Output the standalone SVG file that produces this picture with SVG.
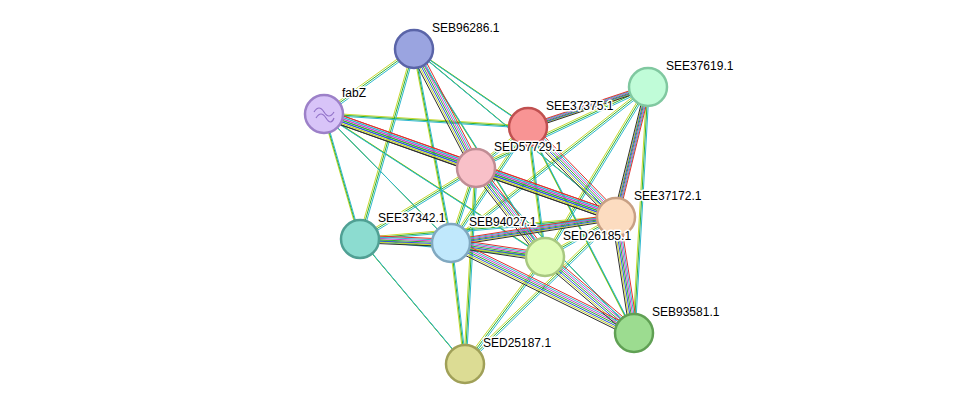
<svg xmlns="http://www.w3.org/2000/svg" xmlns:xlink="http://www.w3.org/1999/xlink" width="976" height="410" viewBox="0 0 976 410">
<style>
.e line{stroke-width:1.2}
.n circle{stroke-width:2.5}
text{font-family:"Liberation Sans",Arial,sans-serif;font-size:12px;fill:#000;paint-order:stroke;stroke:#fff;stroke-width:3px;stroke-linejoin:round}
</style>
<defs>
<g id="all">
<line x1="414" y1="49" x2="324" y2="114"/><line x1="414" y1="49" x2="528" y2="127"/><line x1="414" y1="49" x2="360" y2="239"/><line x1="414" y1="49" x2="451" y2="243"/><line x1="414" y1="49" x2="616" y2="217"/><line x1="414" y1="49" x2="545" y2="257"/>
<line x1="324" y1="114" x2="528" y2="127"/><line x1="324" y1="114" x2="360" y2="239"/><line x1="324" y1="114" x2="451" y2="243"/><line x1="324" y1="114" x2="545" y2="257"/>
<line x1="648" y1="87" x2="476" y2="168"/><line x1="648" y1="87" x2="634" y2="333"/><line x1="648" y1="87" x2="451" y2="243"/><line x1="648" y1="87" x2="545" y2="257"/>
<line x1="528" y1="127" x2="476" y2="168"/><line x1="528" y1="127" x2="451" y2="243"/><line x1="528" y1="127" x2="545" y2="257"/><line x1="528" y1="127" x2="634" y2="333"/>
<line x1="476" y1="168" x2="360" y2="239"/><line x1="476" y1="168" x2="451" y2="243"/><line x1="476" y1="168" x2="634" y2="333"/><line x1="476" y1="168" x2="465" y2="364"/>
<line x1="616" y1="217" x2="360" y2="239"/><line x1="616" y1="217" x2="545" y2="257"/><line x1="616" y1="217" x2="465" y2="364"/>
<line x1="360" y1="239" x2="545" y2="257"/><line x1="360" y1="239" x2="465" y2="364"/>
<line x1="451" y1="243" x2="465" y2="364"/>
<line x1="545" y1="257" x2="465" y2="364"/>
</g>
<g id="strong">
<line x1="324" y1="114" x2="476" y2="168"/><line x1="324" y1="114" x2="616" y2="217"/><line x1="476" y1="168" x2="616" y2="217"/>
<line x1="414" y1="49" x2="476" y2="168"/><line x1="648" y1="87" x2="616" y2="217"/><line x1="648" y1="87" x2="528" y2="127"/><line x1="476" y1="168" x2="545" y2="257"/><line x1="451" y1="243" x2="545" y2="257"/><line x1="545" y1="257" x2="634" y2="333"/><line x1="616" y1="217" x2="634" y2="333"/><line x1="360" y1="239" x2="451" y2="243"/><line x1="451" y1="243" x2="616" y2="217"/><line x1="451" y1="243" x2="634" y2="333"/><line x1="528" y1="127" x2="616" y2="217"/>
</g>
</defs>
<rect width="976" height="410" fill="#fff"/>
<g id="connectors" class="e" fill="none">
<use href="#all" stroke="#c8d830" transform="translate(-1.2,-1.2)"/>
<use href="#all" stroke="#30b030"/>
<use href="#all" stroke="#30b8d0" transform="translate(1.2,1.2)"/>
<use href="#strong" stroke="#c8d830" transform="translate(-2.4,2.4)"/>
<use href="#strong" stroke="#3050e0" transform="translate(-1.2,1.2)"/>
<use href="#strong" stroke="#30b030"/>
<use href="#strong" stroke="#d040d0" transform="translate(1.2,-1.2)"/>
<use href="#strong" stroke="#30b8d0" transform="translate(2.4,-2.4)"/>
<use href="#strong" stroke="#303030" transform="translate(-3.6,3.6)" stroke-width="1"/>
<use href="#strong" stroke="#e03030" transform="translate(3.6,-3.6)" stroke-width="1"/>
</g>
<g id="SEB96286.1" class="n"><circle cx="414" cy="49" r="19" fill="#9aa4e0" stroke="#5a64a8"/><text x="432" y="32">SEB96286.1</text></g>
<g id="fabZ" class="n"><circle cx="324" cy="114" r="19" fill="#d8c4f8" stroke="#9c80c8"/><path d="M314 112 q5 -8 10 0 t10 0 M316 118 q5 -8 10 0 t8 0" stroke="#9070c8" fill="none" stroke-width="1.2"/><text x="342" y="97">fabZ</text></g>
<g id="SEE37619.1" class="n"><circle cx="648" cy="87" r="19" fill="#c0fcd8" stroke="#80c8a0"/><text x="666" y="70">SEE37619.1</text></g>
<g id="SEE37375.1" class="n"><circle cx="528" cy="127" r="19" fill="#f89494" stroke="#c05050"/><text x="546" y="110">SEE37375.1</text></g>
<g id="SED57729.1" class="n"><circle cx="476" cy="168" r="19" fill="#f8c0c8" stroke="#c08c94"/><text x="494" y="151">SED57729.1</text></g>
<g id="SEE37172.1" class="n"><circle cx="616" cy="217" r="19" fill="#fcdcc0" stroke="#c8a084"/><text x="634" y="200">SEE37172.1</text></g>
<g id="SEE37342.1" class="n"><circle cx="360" cy="239" r="19" fill="#8cdcd0" stroke="#50a094"/><text x="378" y="222">SEE37342.1</text></g>
<g id="SEB94027.1" class="n"><circle cx="451" cy="243" r="19" fill="#c0e8fc" stroke="#80a8c0"/><text x="469" y="226">SEB94027.1</text></g>
<g id="SED26185.1" class="n"><circle cx="545" cy="257" r="19" fill="#e0fcb8" stroke="#a8c880"/><text x="563" y="240">SED26185.1</text></g>
<g id="SEB93581.1" class="n"><circle cx="634" cy="333" r="19" fill="#9cdc90" stroke="#60a054"/><text x="652" y="316">SEB93581.1</text></g>
<g id="SED25187.1" class="n"><circle cx="465" cy="364" r="19" fill="#dcdc94" stroke="#a0a058"/><text x="483" y="347">SED25187.1</text></g>
</svg>
